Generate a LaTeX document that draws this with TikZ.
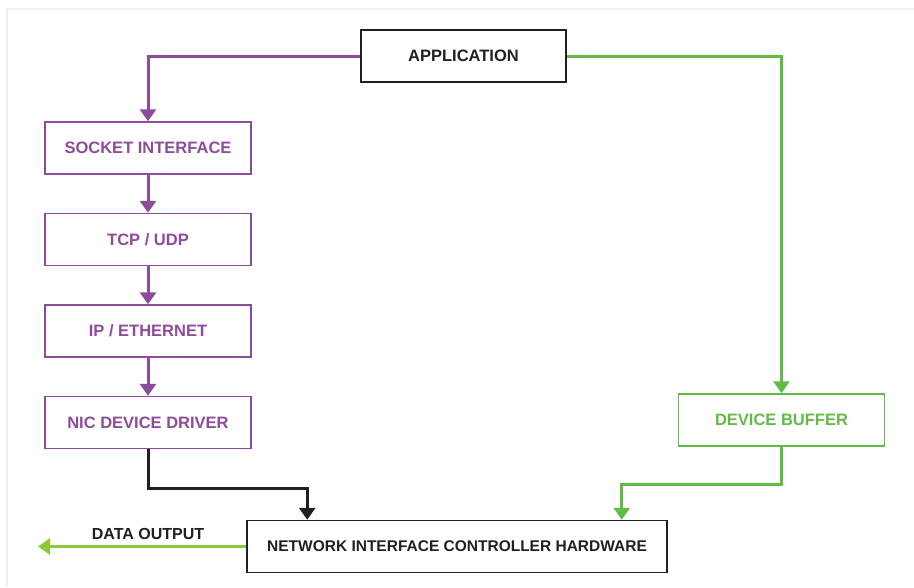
\documentclass[tikz,border=0pt]{standalone}
\usepackage{fontspec}
\setmainfont{Liberation Sans}
\usepackage{tikz}
\usetikzlibrary{arrows.meta,positioning}
\definecolor{stackpurple}{HTML}{8E4B9C}
\definecolor{bypassgreen}{HTML}{62BB46}
\definecolor{outgreen}{HTML}{8DC63F}
\definecolor{inkblack}{HTML}{231F20}
\definecolor{framegray}{HTML}{F0F0F0}

\begin{document}
\begin{tikzpicture}[x=1pt,y=-1pt,
		layer/.style={rectangle,draw=stackpurple,line width=1.5pt,text=stackpurple,minimum width=206pt,minimum height=52pt,inner sep=0pt,font=\bfseries\fontsize{16.5}{19}\selectfont},
		plain/.style={rectangle,draw=inkblack,line width=1.5pt,text=inkblack,minimum height=52pt,inner sep=0pt,font=\bfseries\fontsize{16.5}{19}\selectfont},
		buffer/.style={layer,draw=bypassgreen,text=bypassgreen},
		flow/.style={line width=3pt,-{Triangle[width=16pt,length=12pt]}}]
	\useasboundingbox (0,0) rectangle (914,587);
	\draw[framegray,line width=2pt] (7,587) -- (7,9) -- (914,9);

	\node[plain,minimum width=205pt] (app) at (463.5,56) {APPLICATION};
	\node[layer] (sock) at (148,148) {SOCKET INTERFACE};
	\node[layer] (tcp) [below=38pt of sock] {TCP / UDP};
	\node[layer] (ip) [below=38pt of tcp] {IP / ETHERNET};
	\node[layer] (drv) [below=38pt of ip] {NIC DEVICE DRIVER};
	\node[buffer] (buf) at (781.5,420) {DEVICE BUFFER};
	\node[plain,minimum width=420pt,font=\bfseries\fontsize{15.5}{18}\selectfont] (hw) at (457,546.5) {NETWORK INTERFACE CONTROLLER HARDWARE};

	\coordinate (hwleft) at ([xshift=61pt]hw.north west);
	\coordinate (hwright) at ([xshift=-46pt]hw.north east);
	\coordinate (out) at (38,546.5);

	% stack path
	\draw[flow,stackpurple] (app.west) -| (sock.north);
	\draw[flow,stackpurple] (sock) -- (tcp);
	\draw[flow,stackpurple] (tcp) -- (ip);
	\draw[flow,stackpurple] (ip) -- (drv);
	\draw[flow,inkblack] (drv.south) -- ++(0,39) -| (hwleft);
	% bypass path
	\draw[flow,bypassgreen] (app.east) -| (buf.north);
	\draw[flow,bypassgreen] (buf.south) -- ++(0,38) -| (hwright);

	\draw[flow,outgreen] (hw.west) -- (out);
	\node[text=inkblack,font=\bfseries\fontsize{16}{19}\selectfont] (outlabel) at (148,534) {DATA OUTPUT};
\end{tikzpicture}
\end{document}
